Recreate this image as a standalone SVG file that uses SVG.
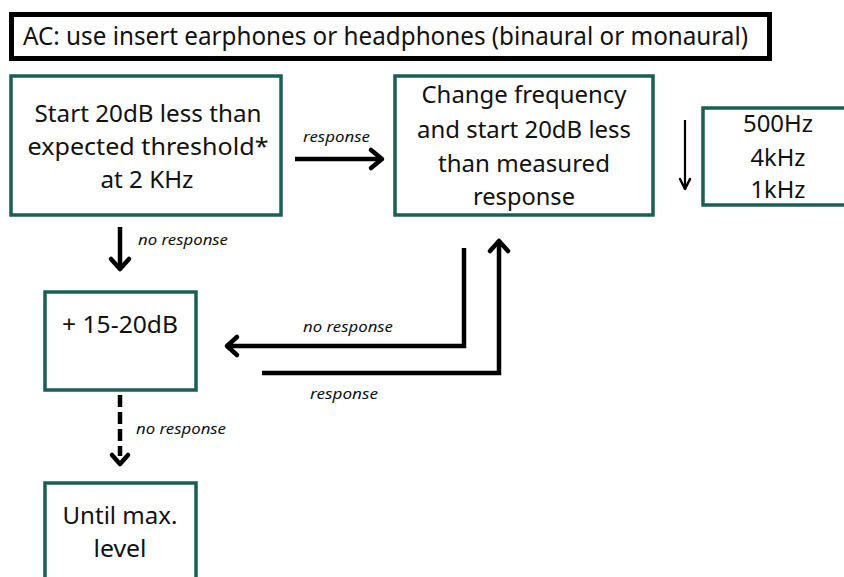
<svg xmlns="http://www.w3.org/2000/svg" width="844" height="577" viewBox="0 0 844 577">
<style>
.box{fill:#fff;stroke:#1b5e55;stroke-width:3.5}
.t{font-family:"Noto Sans","Open Sans",sans-serif;font-size:23px;fill:#111;text-anchor:middle}
.s{font-family:"Noto Sans","Open Sans",sans-serif;font-size:14px;font-style:italic;fill:#111}
.ln{fill:none;stroke:#000;stroke-width:4.5;stroke-linecap:butt}
.hd{fill:none;stroke:#000;stroke-width:4.5;stroke-linecap:round;stroke-linejoin:round}
</style>
<rect width="844" height="577" fill="#fff"/>
<g id="title">
<rect x="11.5" y="14.5" width="758" height="44" fill="#fff" stroke="#000" stroke-width="5"/>
<text class="t" x="23" y="45" style="text-anchor:start;font-size:25px" textLength="725" lengthAdjust="spacingAndGlyphs">AC: use insert earphones or headphones (binaural or monaural)</text>
</g>
<g id="start">
<rect class="box" x="11" y="76" width="270" height="139"/>
<text class="t" x="148" y="122" textLength="227" lengthAdjust="spacingAndGlyphs">Start 20dB less than</text>
<text class="t" x="148" y="155" textLength="241" lengthAdjust="spacingAndGlyphs">expected threshold*</text>
<text class="t" x="147" y="188" textLength="93" lengthAdjust="spacingAndGlyphs">at 2 KHz</text>
</g>
<g id="change">
<rect class="box" x="395" y="76" width="258" height="139"/>
<text class="t" x="524" y="103" textLength="205" lengthAdjust="spacingAndGlyphs">Change frequency</text>
<text class="t" x="524" y="138" textLength="214" lengthAdjust="spacingAndGlyphs">and start 20dB less</text>
<text class="t" x="524" y="172" textLength="172" lengthAdjust="spacingAndGlyphs">than measured</text>
<text class="t" x="524" y="205" textLength="102" lengthAdjust="spacingAndGlyphs">response</text>
</g>
<g id="freqs">
<rect class="box" x="703" y="108" width="150" height="97"/>
<text class="t" x="778" y="132" textLength="70" lengthAdjust="spacingAndGlyphs">500Hz</text>
<text class="t" x="778" y="166" textLength="55" lengthAdjust="spacingAndGlyphs">4kHz</text>
<text class="t" x="778" y="198" textLength="55" lengthAdjust="spacingAndGlyphs">1kHz</text>
</g>
<g id="plus">
<rect class="box" x="45" y="292" width="151" height="98"/>
<text class="t" x="120" y="333" textLength="116" lengthAdjust="spacingAndGlyphs">+ 15-20dB</text>
</g>
<g id="max">
<rect class="box" x="45" y="483" width="151" height="110"/>
<text class="t" x="120" y="524" textLength="115" lengthAdjust="spacingAndGlyphs">Until max.</text>
<text class="t" x="120" y="557" textLength="53" lengthAdjust="spacingAndGlyphs">level</text>
</g>
<g id="connectors">
<line class="ln" x1="295" y1="159" x2="382" y2="159"/>
<polyline class="hd" points="371,150 382,159 371,168"/>
<line class="ln" x1="120" y1="227" x2="120" y2="269"/>
<polyline class="hd" points="111,259 120,269 129,259"/>
<line x1="685" y1="120" x2="685" y2="188" stroke="#000" stroke-width="2.2"/>
<polyline points="680,179 685,189 690,179" fill="none" stroke="#000" stroke-width="2.5" stroke-linejoin="round" stroke-linecap="round"/>
<polyline class="ln" points="464,248 464,346 227,346"/>
<polyline class="hd" points="237,337 227,346 237,355"/>
<polyline class="ln" points="262,373 499,373 499,241"/>
<polyline class="hd" points="490,251 499,241 508,251"/>
<line class="ln" x1="120" y1="395" x2="120" y2="456" stroke-dasharray="12,5"/>
<polyline class="hd" points="112,455 120,464 128,455"/>
</g>
<g id="labels">
<text class="s" x="303" y="142" textLength="67" lengthAdjust="spacingAndGlyphs">response</text>
<text class="s" x="138" y="245" textLength="90" lengthAdjust="spacingAndGlyphs">no response</text>
<text class="s" x="303" y="332" textLength="90" lengthAdjust="spacingAndGlyphs">no response</text>
<text class="s" x="310" y="399" textLength="68" lengthAdjust="spacingAndGlyphs">response</text>
<text class="s" x="136" y="434" textLength="90" lengthAdjust="spacingAndGlyphs">no response</text>
</g>
</svg>
